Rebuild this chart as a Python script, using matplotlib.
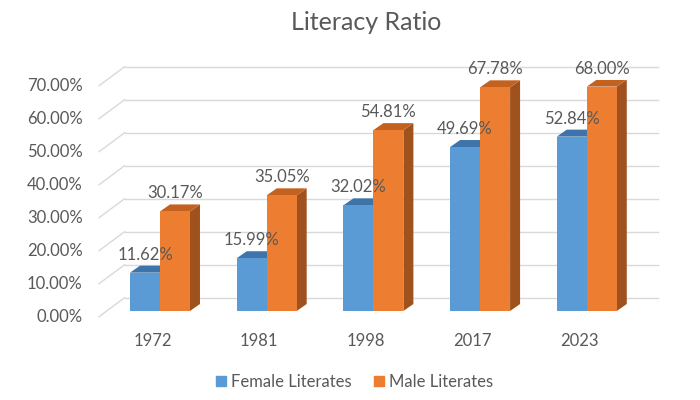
import matplotlib
matplotlib.use("Agg")
import matplotlib.pyplot as plt
import matplotlib.transforms as mtransforms
from matplotlib.patches import Polygon
from matplotlib.lines import Line2D
import numpy as np

years = ['1972', '1981', '1998', '2017', '2023']
female = [11.62, 15.99, 32.02, 49.69, 52.84]
male = [30.17, 35.05, 54.81, 67.78, 68.00]
yticks = [0, 10, 20, 30, 40, 50, 60, 70]
series_names = ['Female Literates', 'Male Literates']

FONT = ['Lato', 'DejaVu Sans']
TXT = '#595959'
BLUE, BLUE_TOP, BLUE_SIDE = '#5B9BD5', '#3E74AA', '#3A6A9A'
ORANGE, ORANGE_TOP, ORANGE_SIDE = '#ED7D31', '#C3611F', '#A0521E'
GRID = '#D9D9D9'
FS = 12

DPI = 100
fig = plt.figure(figsize=(7, 4), dpi=DPI)
fig.patch.set_facecolor('white')

# axes = the plane of the bars' front faces
ax = fig.add_axes([106.65 / 700, 89 / 400, 533.5 / 700, 231 / 400])
ax.set_xlim(-0.5, 4.5)
ax.set_ylim(0, 70)
ax.axis('off')

def off(dx, dy):
    return ax.transData + mtransforms.ScaledTranslation(dx / DPI, dy / DPI, fig.dpi_scale_trans)

wall = off(18, 13.3)     # back wall
front = off(-7.6, -5.7)  # front edge of floor / labels plane

# gridlines on back wall + diagonals on the left side wall
for v in yticks:
    ax.plot([-0.5, 4.5], [v, v], color=GRID, lw=1.0, transform=wall, zorder=0, clip_on=False)
    p0 = front.transform((-0.5, v))
    p1 = wall.transform((-0.5, v))
    inv = ax.transData.inverted()
    d0, d1 = inv.transform(p0), inv.transform(p1)
    ax.plot([d0[0], d1[0]], [d0[1], d1[1]], color=GRID, lw=1.0, zorder=0, clip_on=False)
    ax.text(-0.5, v, f'{v:.2f}%', transform=off(-24, -5.7), ha='right', va='center',
            fontsize=FS, color=TXT, family=FONT)

x = np.arange(len(years))
w = 0.281
DX, DY = 10, 7

def bar3d(xc, h, face, top, side, z):
    x0, x1 = xc - w / 2, xc + w / 2
    inv = ax.transData.inverted()
    def sh(pt):
        p = ax.transData.transform(pt)
        return inv.transform((p[0] + DX, p[1] + DY))
    side_pts = [(x1, 0), (x1, h), sh((x1, h)), sh((x1, 0))]
    top_pts = [(x0, h), (x1, h), sh((x1, h)), sh((x0, h))]
    ax.add_patch(Polygon(side_pts, closed=True, facecolor=side, edgecolor='none', zorder=z))
    ax.add_patch(Polygon(top_pts, closed=True, facecolor=top, edgecolor='none', zorder=z))
    ax.bar(xc, h, width=w, color=face, edgecolor='none', zorder=z + 0.5)

for i in range(len(years)):
    bar3d(x[i] - w / 2, female[i], BLUE, BLUE_TOP, BLUE_SIDE, 2 + i * 2)
    bar3d(x[i] + w / 2, male[i], ORANGE, ORANGE_TOP, ORANGE_SIDE, 3 + i * 2)

for i in range(len(years)):
    ax.text(x[i] - w / 2, female[i], f'{female[i]:.2f}%', transform=off(0, 18), ha='center',
            va='center', fontsize=FS, color=TXT, family=FONT, zorder=20)
    ax.text(x[i] + w / 2, male[i], f'{male[i]:.2f}%', transform=off(0, 18), ha='center',
            va='center', fontsize=FS, color=TXT, family=FONT, zorder=20)
    ax.text(x[i], 0, years[i], transform=off(-7.6, -29.7), ha='center', va='center',
            fontsize=FS, color=TXT, family=FONT)

fig.text(366 / 700, 1 - 23 / 400, 'Literacy Ratio', ha='center', va='center', fontsize=18,
         color=TXT, family=FONT)

handles = [Line2D([], [], marker='s', linestyle='none', markersize=7, color=c)
           for c in (BLUE, ORANGE)]
leg = fig.legend(handles, series_names, loc='center', bbox_to_anchor=(352 / 700, 1 - 382 / 400),
                 ncol=2, frameon=False, handletextpad=0.0, columnspacing=1.0, handlelength=1.2,
                 prop={'family': FONT, 'size': FS})
for t in leg.get_texts():
    t.set_color(TXT)

fig.savefig('out.png', dpi=DPI)
